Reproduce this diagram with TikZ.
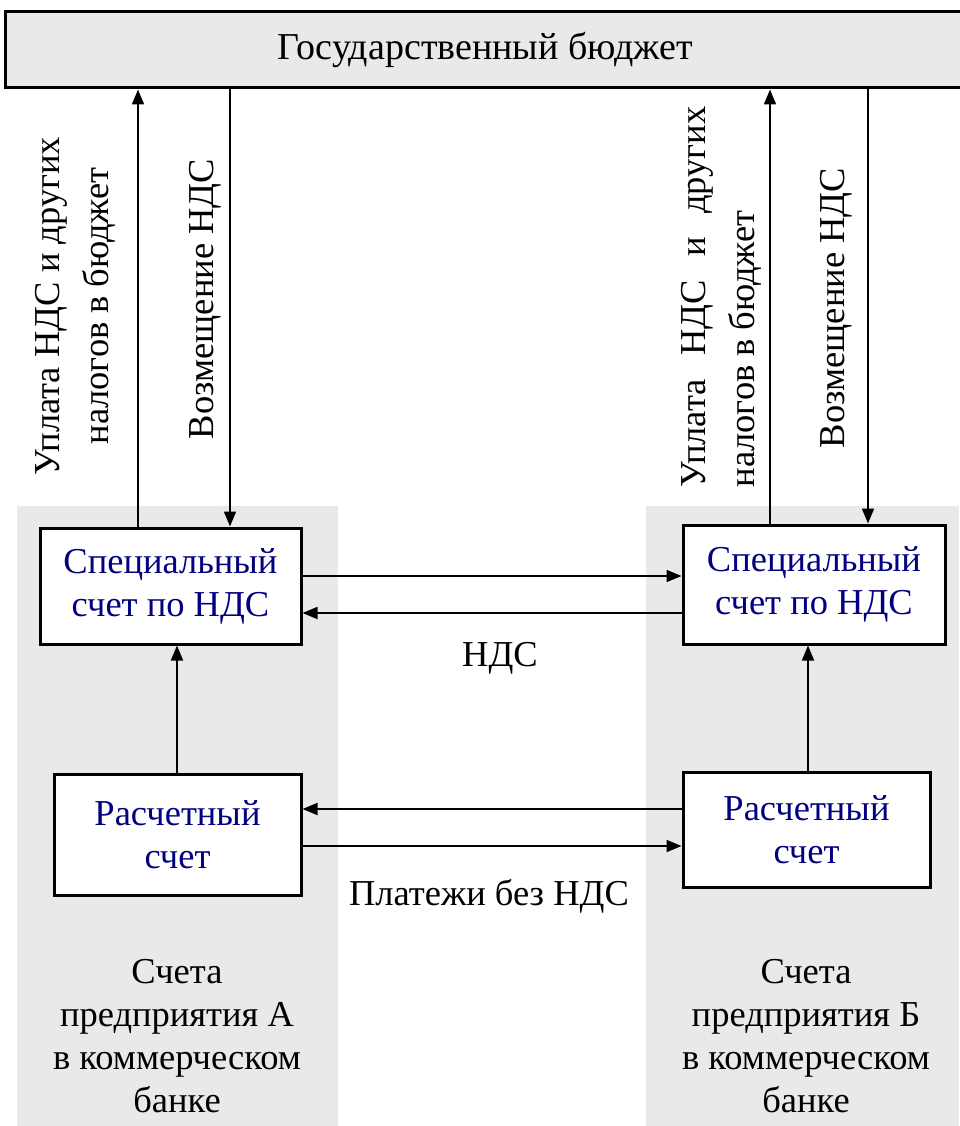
\documentclass[tikz,border=0pt]{standalone}
\usepackage{fontspec}
\setmainfont{Liberation Serif}
\newfontfamily\timesface{Liberation Serif}
\usetikzlibrary{arrows.meta}
\definecolor{panelgray}{RGB}{233,233,233}
\definecolor{acctblue}{RGB}{0,0,128}
\begin{document}
\begin{tikzpicture}[x=1pt,y=-1pt,
  every node/.style={font=\timesface\fontsize{36.5}{43}\selectfont},
  acct/.style={draw, line width=3pt, fill=white, inner sep=0pt, text=acctblue, align=center},
  flow/.style={line width=1.8pt, -{Triangle[length=15pt,width=12pt]}},
  vlabel/.style={rotate=90, inner sep=0pt, font=\timesface\fontsize{36.5}{49}\selectfont},
  note/.style={align=center, inner sep=0pt}]

% page
\fill[white] (0,0) rectangle (959,1126);
\useasboundingbox (0,0) rectangle (959,1126);

% shaded columns for the two enterprises
\fill[panelgray] (17,506) rectangle (338,1126);
\fill[panelgray] (646,506) rectangle (959,1126);

% state budget bar
\node[draw, line width=3pt, fill=panelgray, minimum width=960pt, minimum height=76pt, inner sep=0pt,
  font=\timesface\fontsize{38}{44}\selectfont]
  (budget) at (485,50) {Государственный бюджет};

% accounts
\node[acct, minimum width=261pt, minimum height=116pt] (specA) at (170.5,586) {Специальный\\счет по НДС};
\node[acct, minimum width=262pt, minimum height=119pt] (specB) at (814,584.5) {Специальный\\счет по НДС};
\node[acct, minimum width=247pt, minimum height=121pt] (rasA) at (177.5,834.5) {Расчетный\\счет};
\node[acct, minimum width=247pt, minimum height=115pt] (rasB) at (806.5,829.5) {Расчетный\\счет};

% flows to and from the budget
\draw[flow] (specA.north -| 138,0) -- (budget.south -| 138,0);
\draw[flow] (budget.south -| 230,0) -- (specA.north -| 230,0);
\draw[flow] (specB.north -| 770,0) -- (budget.south -| 770,0);
\draw[flow] (budget.south -| 868,0) -- (specB.north -| 868,0);

% VAT between special accounts
\draw[flow] (specA.east |- 0,576) -- (specB.west |- 0,576);
\draw[flow] (specB.west |- 0,613) -- (specA.east |- 0,613);

% settlement accounts feed special accounts
\draw[flow] (rasA.north -| 177,0) -- (specA.south -| 177,0);
\draw[flow] (rasB.north -| 808,0) -- (specB.south -| 808,0);

% payments without VAT
\draw[flow] (rasB.west |- 0,809) -- (rasA.east |- 0,809);
\draw[flow] (rasA.east |- 0,846) -- (rasB.west |- 0,846);

% labels
\node[anchor=base, inner sep=0pt] (ndsLbl) at (500,666) {НДС};
\node[anchor=base, inner sep=0pt] (payLbl) at (489,905) {Платежи без НДС};

\node[vlabel, align=center] (payA) at (75,306) {Уплата НДС и других\\налогов в бюджет};
\node[vlabel] (refA) at (205,299) {Возмещение НДС};
\node[vlabel, align=left] (payB) at (721,297) {\makebox[381pt][s]{Уплата НДС и других}\\налогов в бюджет};
\node[vlabel] (refB) at (836,308) {Возмещение НДС};

\node[note] (noteA) at (177,1036) {Счета\\предприятия А\\в коммерческом\\банке};
\node[note] (noteB) at (806,1036) {Счета\\предприятия Б\\в коммерческом\\банке};
\end{tikzpicture}
\end{document}
